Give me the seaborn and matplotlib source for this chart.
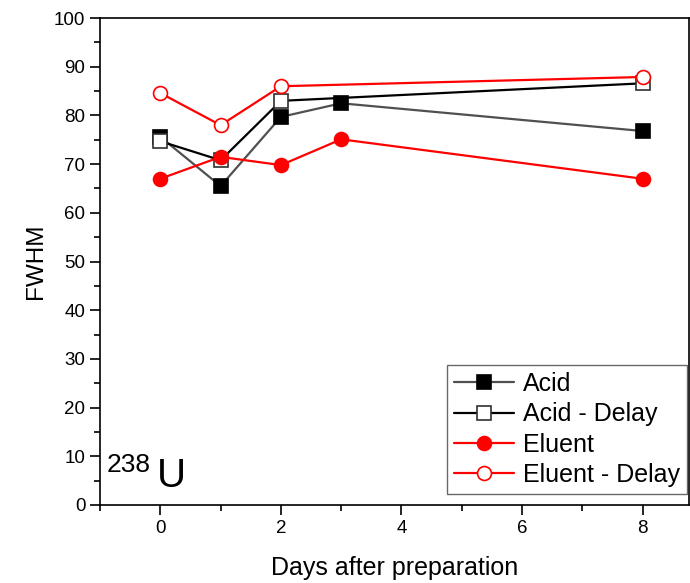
import matplotlib
matplotlib.use("Agg")
import matplotlib.pyplot as plt
import seaborn as sns
import pandas as pd
from matplotlib.ticker import MultipleLocator

sns.set_style("ticks")
plt.rcParams['font.family'] = ['Liberation Sans', 'DejaVu Sans']
plt.rcParams['text.color'] = 'black'
plt.rcParams['axes.labelcolor'] = 'black'
plt.rcParams['xtick.color'] = 'black'
plt.rcParams['ytick.color'] = 'black'

days = [0, 1, 2, 3, 8]
days_delay = [0, 1, 2, 8]
acid = [75.6, 65.5, 79.7, 82.5, 76.8]
acid_delay = [74.7, 70.8, 83.0, 86.6]
eluent = [67.0, 71.5, 69.8, 75.1, 67.0]
eluent_delay = [84.6, 78.0, 86.0, 87.9]

fig = plt.figure(figsize=(6.9, 5.83), dpi=100)
ax = fig.add_axes([0.145, 0.1338, 0.8536, 0.8352])

styles = [
    ("Acid", days, acid, "#505050", "s", "black", "black"),
    ("Acid - Delay", days_delay, acid_delay, "black", "s", "white", "#303030"),
    ("Eluent", days, eluent, "red", "o", "red", "red"),
    ("Eluent - Delay", days_delay, eluent_delay, "red", "o", "white", "red"),
]
for name, xs, ys, c, m, mfc, mec in styles:
    sns.lineplot(x=xs, y=ys, ax=ax, color=c, marker=m, markersize=10,
                 markerfacecolor=mfc, markeredgecolor=mec, markeredgewidth=1.2,
                 linewidth=1.6, label=name, sort=False)

ax.set_xlim(-1, 8.77)
ax.set_ylim(0, 100)
ax.xaxis.set_major_locator(MultipleLocator(2))
ax.xaxis.set_minor_locator(MultipleLocator(1))
ax.yaxis.set_major_locator(MultipleLocator(10))
ax.yaxis.set_minor_locator(MultipleLocator(5))
ax.tick_params(which='major', direction='out', length=7, width=1.2, labelsize=13.5,
               color='black', labelcolor='black')
ax.tick_params(which='minor', direction='out', length=4, width=1.2, color='black')
for s in ax.spines.values():
    s.set_color('black')
    s.set_linewidth(1.2)

ax.set_xlabel("Days after preparation", fontsize=18, labelpad=14, color='black')
ax.set_ylabel("FWHM", fontsize=17.5, labelpad=5, color='black')

leg = ax.legend(loc='lower right', bbox_to_anchor=(0.997, 0.022), fontsize=18,
                frameon=True, fancybox=False, edgecolor='#444444',
                handlelength=2.4, borderpad=0.3, labelspacing=0.25,
                handletextpad=0.35, borderaxespad=0.0)
leg.get_frame().set_linewidth(1.0)
for t in leg.get_texts():
    t.set_color('black')

ax.text(0.012, 0.068, "238", transform=ax.transAxes, fontsize=19, ha='left',
        va='baseline', color='black')
ax.text(0.097, 0.037, "U", transform=ax.transAxes, fontsize=29, ha='left',
        va='baseline', color='black')

fig.savefig("out.png", dpi=100)
